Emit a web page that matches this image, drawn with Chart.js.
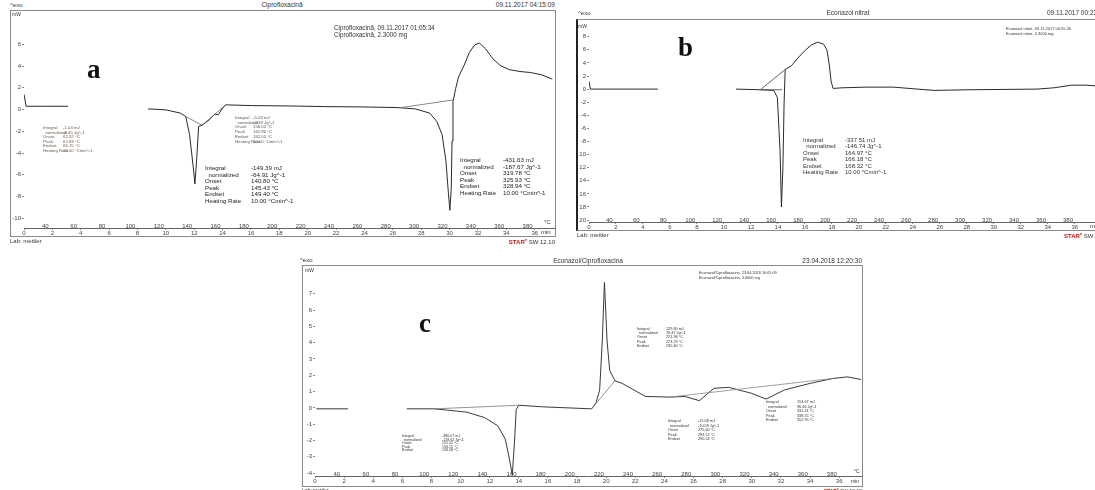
<!DOCTYPE html>
<html>
<head>
<meta charset="utf-8">
<script src="https://cdn.jsdelivr.net/npm/chart.js@4.4.1/dist/chart.umd.min.js"></script>
<style>
html, body { margin: 0; padding: 0; background: #fff; }
body { width: 1095px; height: 490px; position: relative; overflow: hidden;
       font-family: "Liberation Sans", Arial, sans-serif; color: #333; }
.t { position: absolute; white-space: nowrap; line-height: 1; }
.frame { position: absolute; box-sizing: border-box; border: 1px solid #8a8a8a; }
canvas { position: absolute; }
.star { color: #d01010; font-weight: bold; }
</style>
</head>
<body>
<div class="frame" style="left:10px;top:10px;width:546px;height:227px"></div>
<div class="frame" style="left:576px;top:19px;width:540px;height:212px;border-left:2px solid #222"></div>
<div class="frame" style="left:302px;top:265px;width:561px;height:222px"></div>
<canvas id="ca" width="546" height="225" style="left:10px;top:12px"></canvas>
<canvas id="cb" width="518" height="209" style="left:577px;top:21px"></canvas>
<canvas id="cc" width="559" height="220" style="left:303px;top:266px"></canvas>
<script>
// shared axis ticks (°C on the upper row, minutes below)
const tempTicks = [40, 60, 80, 100, 120, 140, 160, 180, 200, 220, 240, 260, 280, 300, 320, 340, 360, 380];
const minTicks = [0, 2, 4, 6, 8, 10, 12, 14, 16, 18, 20, 22, 24, 26, 28, 30, 32, 34, 36];

// a - Ciprofloxacin  [°C, mW], null = no trace
const aYTicks = [-10, -8, -6, -4, -2, 0, 2, 4, 6];
const aCurve = [[25, 1.4], [26.5, 0.3], [40, 0.3], [56, 0.3], [80, null],
  [112.4, 0.06], [125, -0.03], [135.3, -0.33], [139, -0.64], [141.7, -2.3], [144.3, -5.3], [145.5, -6.85],
  [146.8, -4.4], [148.1, -1.55], [150.5, -1.45], [155.7, -0.94], [159.5, -0.42], [162, -0.48], [164.6, 0.06],
  [167.1, 0.43], [186.2, 0.36], [211.7, 0.33], [237, 0.27], [262.5, 0.24], [288, 0.18], [300.8, 0.06],
  [311, -0.33], [316, -1.1], [319.7, -2.3], [322.4, -4.7], [324.2, -7.75], [325.2, -9.27], [326.2, -7.15],
  [326.7, -2.9], [327.4, 0.73], [329.3, 1.94], [331.3, 3.0], [335.2, 4.06], [339, 5.27], [342.7, 5.94],
  [346, 6.12], [350.4, 5.58], [355.5, 4.67], [360.6, 4.06], [367, 3.67], [374.6, 3.5], [382.2, 3.4],
  [389.8, 3.2], [397.4, 2.8]];
const aBase1 = [[139, -0.64], [150.5, -1.45], [167.1, 0.43]];
const aBase2 = [[292, 0.2], [327.4, 0.88]];

// b - Econazol nitrat
const bYTicks = [-20, -18, -16, -14, -12, -10, -8, -6, -4, -2, 0, 2, 4, 6, 8];
const bCurve = [[25, 1.2], [26, 0], [76, 0], [100, null],
  [134, 0], [152, -0.1], [162, -0.2], [164.6, -1.3], [166.6, -9.4], [167.6, -18], [168.7, -12], [169.6, -2.0],
  [170.4, 3.0], [174.7, 3.5], [179.8, 4.75], [184.9, 5.86], [189.9, 6.77], [194.5, 7.17], [198.8, 6.87],
  [201.3, 6.0], [203.1, 3.7], [204.4, 1.2], [205.9, 0.1], [212.7, 0.2], [230.4, 0.3], [250.7, 0.3],
  [268.4, 0], [281, -0.2], [306, -0.1], [331.8, -0.05], [357, 0], [369.7, 0.2], [382.4, 0.6], [393.7, 0.6], [400, 0.5]];
const bBase1 = [[152, -0.1], [170.4, 3.0]];
const bBase2 = [[152, -0.1], [168, -0.1]];

// c - Econazol/Ciprofloxacina
const cYTicks = [-4, -3, -2, -1, 0, 1, 2, 3, 4, 5, 6, 7];
const cCurve = [[26, -0.06], [47.6, -0.06], [70, null],
  [88, -0.06], [107, -0.06], [116, -0.14], [129, -0.26], [141.6, -0.6], [150.5, -1.1], [155.6, -1.9],
  [158, -2.9], [160.5, -4.1], [162, -2.1], [163.2, -0.1], [165, 0.16], [182, 0.06], [215, -0.06],
  [218, 0.3], [220.5, 1.1], [222.3, 4.1], [223.8, 7.7], [225.6, 4.1], [227.4, 2.3], [231, 1.66],
  [236, 1.5], [252, 0.7], [268.7, 0.66], [279, 0.7], [289, 0.44], [299, 1.2], [309, 1.26], [324.6, 0.9],
  [334.8, 0.54], [347.5, 1.1], [365, 1.5], [380.5, 1.8], [390.7, 1.9], [400, 1.74]];
const cBase1 = [[107, -0.06], [165, 0.16]];
const cBase2 = [[215, -0.06], [231, 1.66]];
const cBase3 = [[268.7, 0.66], [380.5, 1.8]];

const tickFont = { family: 'Liberation Sans', size: 6 };

function pts(arr) {
  return arr.map(p => ({ x: p[0], y: p[1] }));
}

function line(arr, color, width) {
  return { data: pts(arr), borderColor: color, borderWidth: width, pointRadius: 0,
           tension: 0, spanGaps: false, xAxisID: 'x', yAxisID: 'y' };
}

function buildChart(id, o) {
  return new Chart(document.getElementById(id), {
    type: 'line',
    data: { datasets: o.series },
    options: {
      responsive: false,
      animation: false,
      devicePixelRatio: 1,
      layout: { padding: o.pad },
      plugins: { legend: { display: false }, tooltip: { enabled: false } },
      scales: {
        // temperature labels sit just above the time axis line, inside the plot
        x: {
          type: 'linear', position: 'bottom', weight: 0, min: 25, max: o.tmax,
          afterFit: a => { a.height = 0; },
          afterBuildTicks: a => { a.ticks = tempTicks.map(v => ({ value: v })); },
          grid: { display: false }, border: { display: false },
          ticks: { mirror: true, padding: -2, font: tickFont, color: '#444', maxRotation: 0, autoSkip: false }
        },
        t: {
          type: 'linear', position: 'bottom', weight: 1, min: 0, max: (o.tmax - 25) / 10,
          afterFit: a => { a.height = o.minH; },
          afterBuildTicks: a => { a.ticks = minTicks.map(v => ({ value: v })); },
          grid: { drawOnChartArea: false, tickLength: 2, color: '#888' },
          border: { display: true, color: '#666' },
          ticks: { padding: 0, font: tickFont, color: '#444', maxRotation: 0, autoSkip: false }
        },
        y: {
          min: o.ymin, max: o.ymax,
          afterFit: a => { a.width = o.yW; },
          afterBuildTicks: a => { a.ticks = o.yTicks.map(v => ({ value: v })); },
          grid: { drawOnChartArea: false, tickLength: 2, color: '#888' },
          border: { display: false },
          ticks: { padding: 1, font: tickFont, color: '#444' }
        }
      }
    }
  });
}

buildChart('ca', {
  tmax: 399.3, ymin: -10.9, ymax: 8.55, yTicks: aYTicks, yW: 12, minH: 9,
  pad: { left: 2, top: 2, right: 1, bottom: 0 },
  series: [line(aBase1, '#666', 0.8), line(aBase2, '#666', 0.8), line(aCurve, '#2a2a2a', 1)]
});
buildChart('cb', {
  tmax: 400, ymin: -20.3, ymax: 9.7, yTicks: bYTicks, yW: 10, minH: 8,
  pad: { left: 2, top: 3, right: 0, bottom: 0 },
  series: [line(bBase1, '#555', 0.9), line(bBase2, '#555', 0.9), line(bCurve, '#2a2a2a', 1)]
});
buildChart('cc', {
  tmax: 400, ymin: -4.18, ymax: 8.42, yTicks: cYTicks, yW: 10, minH: 9,
  pad: { left: 2, top: 2, right: 1, bottom: 1 },
  series: [line(cBase1, '#777', 0.8), line(cBase2, '#777', 0.8), line(cBase3, '#888', 0.8),
           line(cCurve, '#3a3a3a', 1)]
});

// ----- text overlays -----
function txt(x, y, s, size, extra) {
  const d = document.createElement('div');
  d.className = 't';
  d.style.left = x + 'px';
  d.style.top = y + 'px';
  d.style.fontSize = size + 'px';
  if (extra) Object.assign(d.style, extra);
  d.innerHTML = s;
  document.body.appendChild(d);
  return d;
}
function center(x, y, s, size) {
  return txt(x, y, s, size, { transform: 'translateX(-50%)' });
}
function right(x, y, s, size) {
  return txt(x, y, s, size, { transform: 'translateX(-100%)' });
}
function letter(x, y, s) {
  return txt(x, y, s, 27, { fontFamily: '"Liberation Serif", serif', fontWeight: 'bold', color: '#111' });
}
function block(x, y, col, size, lh, rows, color) {
  rows.forEach((r, i) => {
    txt(x, y + i * lh, r[0], size, { color: color });
    txt(x + col, y + i * lh, r[1], size, { color: color });
  });
}
function peakRows(integ, norm, onset, peak, endset, rate) {
  const r = [['Integral', integ + ' mJ'], ['&nbsp;&nbsp;normalized', norm + ' Jg^-1'],
             ['Onset', onset + ' °C'], ['Peak', peak + ' °C'], ['Endset', endset + ' °C']];
  if (rate) r.push(['Heating Rate', '10.00 °Cmin^-1']);
  return r;
}
const star = sz => '<span class="star">STAR<sup style="font-size:' + sz + 'px">e</sup></span> SW 12.10';

// panel a
txt(10, 2, '^exo', 6);
center(282, 2, 'Ciprofloxacină', 6.5);
right(555, 2, '09.11.2017 04:15:09', 6.5);
txt(12, 12, 'mW', 5);
txt(334, 25, 'Ciprofloxacină, 09.11.2017 01:05:34', 6.3);
txt(334, 32, 'Ciprofloxacină, 2.3000 mg', 6.3);
letter(87, 56, 'a');
txt(544, 219, '°C', 6);
txt(541, 229, 'min', 6);
txt(10, 238, 'Lab: mettler', 6);
right(555, 238, star(4), 6);
block(43, 126, 20, 4.3, 4.5, peakRows('-1.04', '-0.45', '62.52', '62.83', '66.15', true), '#6b5a45');
block(235, 116, 18, 4.3, 4.7, peakRows('-5.03', '-2.19', '156.02', '161.90', '162.05', true), '#555');
block(205, 165, 46, 6.2, 6.6, peakRows('-149.39', '-64.91', '140.80', '145.43', '149.40', true), '#222');
block(460, 157, 43, 6.2, 6.6, peakRows('-431.63', '-187.67', '319.78', '325.93', '328.94', true), '#222');

// panel b (cut off by the right edge of the page)
txt(578, 10, '^exo', 6);
center(848, 10, 'Econazol nitrat', 6.5);
txt(1047, 10, '09.11.2017 00:23:11', 6.5);
txt(578, 24, 'mW', 5);
txt(1006, 27, 'Econazol nitrat, 09.11.2017 00:55:26', 4);
txt(1006, 32, 'Econazol nitrat, 2.3000 mg', 4);
letter(678, 34, 'b');
txt(1090, 223, 'min', 6);
txt(577, 232, 'Lab: mettler', 6);
txt(1064, 232, star(4), 6);
block(803, 137, 42, 6, 6.4, peakRows('-337.51', '-146.74', '164.97', '166.18', '168.32', true), '#333');

// panel c
txt(300, 257, '^exo', 6);
center(588, 258, 'Econazol/Ciprofloxacina', 6.5);
right(862, 258, '23.04.2018 12:20:30', 6.5);
txt(305, 268, 'mW', 5);
txt(699, 272, 'Econazol/Ciprofloxacina, 23.04.2018 10:05:09', 3.8);
txt(699, 277, 'Econazol/Ciprofloxacina, 3.0000 mg', 3.8);
letter(419, 310, 'c');
txt(854, 469, '°C', 5);
txt(851, 479, 'min', 5);
txt(302, 488, 'Lab: mettler', 5);
right(862, 488, star(3), 5);
block(402, 435, 40, 3.6, 3.6, peakRows('-386.07', '-128.62', '152.52', '158.15', '158.58'), '#333');
block(637, 328, 29, 3.8, 4.2, peakRows('129.80', '76.47', '221.98', '223.29', '230.40'), '#333');
block(668, 420, 30, 3.8, 4.5, peakRows('-15.08', '-10.09', '275.60', '283.52', '290.54'), '#333');
block(766, 401, 31, 3.8, 4.5, peakRows('153.67', '96.46', '331.41', '338.55', '352.95'), '#333');
</script>
</body>
</html>
